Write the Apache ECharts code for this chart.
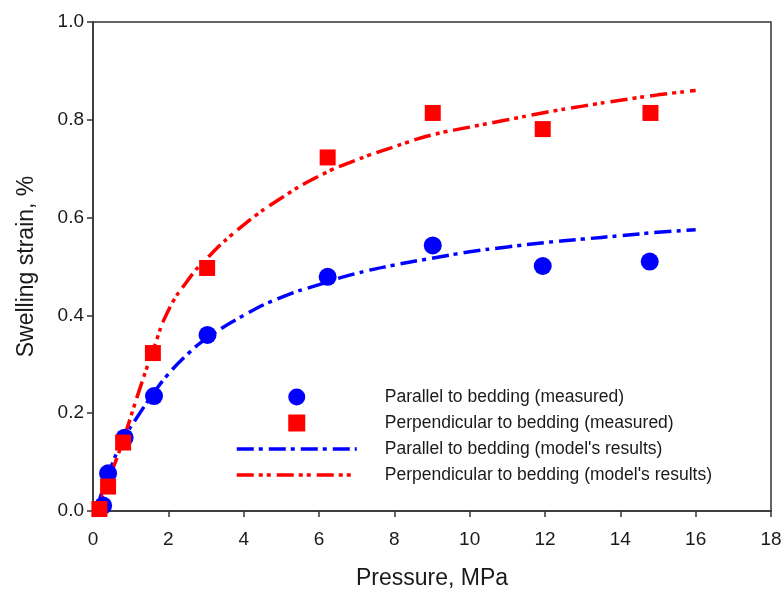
<!DOCTYPE html>
<html>
<head>
<meta charset="utf-8">
<title>Swelling strain vs pressure</title>
<script src="https://cdn.jsdelivr.net/npm/echarts@6/dist/echarts.min.js"></script>
<style>
  html, body { margin: 0; padding: 0; background: #fff; }
  #chart { width: 782px; height: 589px; }
</style>
</head>
<body>
<div id="chart"></div>
<script>
// Measured swelling strain (%) against pressure (MPa)
const parallelMeasuredP = [0.27, 0.40, 0.84, 1.62, 3.04, 6.23, 9.02, 11.94, 14.78];
const parallelMeasuredStrain = [0.011, 0.077, 0.150, 0.235, 0.360, 0.479, 0.543, 0.501, 0.510];

const perpMeasuredP = [0.17, 0.40, 0.80, 1.59, 3.03, 6.23, 9.02, 11.94, 14.80];
const perpMeasuredStrain = [0.004, 0.050, 0.140, 0.323, 0.497, 0.723, 0.814, 0.781, 0.814];

// Model curves
const modelP = [0.1, 0.4, 0.8, 1.2, 1.6, 2.0, 2.5, 3.0, 4.0, 5.0, 6.0, 7.0, 8.0, 9.0, 10.0, 11.0, 12.0, 13.0, 14.0, 15.0, 16.0];
const parallelModelStrain = [0.004, 0.074, 0.145, 0.195, 0.240, 0.280, 0.320, 0.352, 0.400, 0.437, 0.463, 0.486, 0.503, 0.517, 0.530, 0.540, 0.549, 0.556, 0.563, 0.570, 0.575];
const perpModelStrain = [0.000, 0.060, 0.145, 0.240, 0.330, 0.410, 0.470, 0.515, 0.585, 0.640, 0.685, 0.718, 0.745, 0.769, 0.785, 0.800, 0.815, 0.828, 0.840, 0.851, 0.860];

const xTicks = { min: 0, max: 18, interval: 2 };
const yTicks = { min: 0, max: 1.0, interval: 0.2 };

const seriesNames = [
  'Parallel to bedding (measured)',
  'Perpendicular to bedding (measured)',
  "Parallel to bedding (model's results)",
  "Perpendicular to bedding (model's results)"
];

const zip = (xs, ys) => xs.map((x, i) => [x, ys[i]]);

const BLUE = '#0000ff';
const RED = '#ff0000';
const AXIS = '#333333';
const TEXT = '#1a1a1a';
const FONT = 'Liberation Sans, Arial, sans-serif';
const SQUARE = 'path://M0,0H10V10H0Z';
const BLUE_DASH = [17, 5, 4, 6];
const RED_DASH = [17, 5, 4, 4, 4, 6];

const chart = echarts.init(document.getElementById('chart'), null, { renderer: 'canvas' });

chart.setOption({
  animation: false,
  backgroundColor: '#ffffff',
  textStyle: { fontFamily: FONT },
  grid: {
    left: 93, right: 11, top: 22, bottom: 78,
    outerBoundsMode: 'none',
    containLabel: false,
    show: true, borderColor: AXIS, borderWidth: 1.5, backgroundColor: 'transparent'
  },
  legend: {
    orient: 'vertical',
    left: 235,
    top: 388,
    padding: 0,
    itemWidth: 120,
    itemHeight: 17,
    itemGap: 8,
    textStyle: { fontFamily: FONT, fontSize: 17.5, color: TEXT, padding: [0, 0, 0, 23] },
    data: [
      { name: seriesNames[0], icon: 'circle' },
      { name: seriesNames[1], icon: SQUARE },
      { name: seriesNames[2], itemStyle: { opacity: 0 },
        lineStyle: { color: BLUE, width: 3.5, type: BLUE_DASH } },
      { name: seriesNames[3], itemStyle: { opacity: 0 },
        lineStyle: { color: RED, width: 3.5, type: RED_DASH } }
    ]
  },
  xAxis: {
    type: 'value',
    min: xTicks.min, max: xTicks.max, interval: xTicks.interval,
    name: 'Pressure, MPa',
    nameLocation: 'middle',
    nameGap: 56,
    nameTextStyle: { fontFamily: FONT, fontSize: 23, color: TEXT },
    axisLine: { show: true, lineStyle: { color: AXIS, width: 1.5 } },
    axisTick: { show: true, inside: false, length: 6, lineStyle: { color: AXIS, width: 1.5 } },
    axisLabel: { fontFamily: FONT, fontSize: 19, color: TEXT, margin: 19 },
    splitLine: { show: false }
  },
  yAxis: {
    type: 'value',
    min: yTicks.min, max: yTicks.max, interval: yTicks.interval,
    name: 'Swelling strain, %',
    nameLocation: 'middle',
    nameGap: 55,
    nameTextStyle: { fontFamily: FONT, fontSize: 23, color: TEXT },
    axisLine: { show: true, lineStyle: { color: AXIS, width: 1.5 } },
    axisTick: { show: true, inside: false, length: 6, lineStyle: { color: AXIS, width: 1.5 } },
    axisLabel: { fontFamily: FONT, fontSize: 19, color: TEXT, margin: 9,
      formatter: v => v.toFixed(1) },
    splitLine: { show: false }
  },
  series: [
    {
      name: seriesNames[2],
      type: 'line',
      data: zip(modelP, parallelModelStrain),
      smooth: true,
      showSymbol: false,
      symbol: 'none',
      lineStyle: { color: BLUE, width: 3.5, type: BLUE_DASH },
      itemStyle: { color: BLUE },
      z: 2
    },
    {
      name: seriesNames[3],
      type: 'line',
      data: zip(modelP, perpModelStrain),
      smooth: true,
      showSymbol: false,
      symbol: 'none',
      lineStyle: { color: RED, width: 3.5, type: RED_DASH },
      itemStyle: { color: RED },
      z: 2
    },
    {
      name: seriesNames[0],
      type: 'scatter',
      data: zip(parallelMeasuredP, parallelMeasuredStrain),
      symbol: 'circle',
      symbolSize: 18,
      itemStyle: { color: BLUE, opacity: 1 },
      z: 3
    },
    {
      name: seriesNames[1],
      type: 'scatter',
      data: zip(perpMeasuredP, perpMeasuredStrain),
      symbol: 'rect',
      symbolSize: 16,
      itemStyle: { color: RED, opacity: 1 },
      z: 4
    }
  ]
});
</script>
</body>
</html>
